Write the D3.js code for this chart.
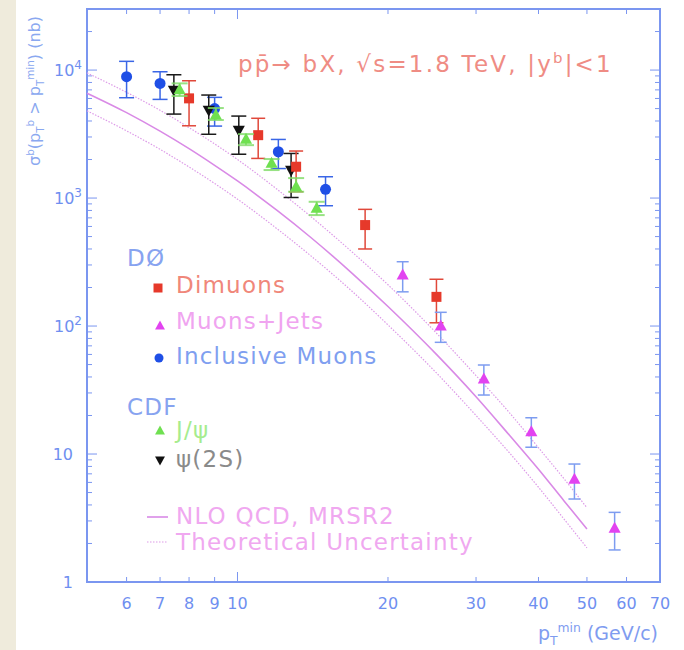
<!DOCTYPE html>
<html><head><meta charset="utf-8">
<script src="https://cdn.jsdelivr.net/npm/d3@7"></script>
<style>
html,body{margin:0;padding:0;background:#fff;}
svg{display:block;font-family:"DejaVu Sans",sans-serif;}
</style></head>
<body>
<script>
// ---------- data ----------
const xTickValues = [6,7,8,9,10,20,30,40,50,60,70];
const yMajorTicks = [1,10,100,1000,10000];
const yTickLabels = ["1","10","10|2","10|3","10|4"];

// D0 dimuons
const dimuX  = [8.0, 11.0, 13.1, 18.0, 25.0];
const dimuY  = [6010, 3100, 1757, 615, 169];
const dimuLo = [3670, 2040, 1120, 400, 106];
const dimuHi = [8250, 4200, 2330, 816, 232];
// D0 muons+jets
const mjX  = [21.4, 25.5, 31.1, 38.7, 47.2, 56.8];
const mjY  = [250, 100, 38.5, 14.9, 6.35, 2.63];
const mjLo = [185, 74.6, 28.9, 11.3, 4.45, 1.78];
const mjHi = [318, 128, 49.6, 19.2, 8.35, 3.5];
// D0 inclusive muons
const incX  = [6.0, 7.0, 9.0, 12.07, 15.0];
const incY  = [8870, 7870, 5000, 2300, 1170];
const incLo = [6080, 5900, 3650, 1700, 871];
const incHi = [11700, 9700, 6120, 2870, 1467];
// CDF J/psi
const jpsiX  = [7.66, 9.05, 10.4, 11.7, 13.1, 14.4];
const jpsiY  = [7000, 4450, 2870, 1870, 1225, 830];
const jpsiLo = [6270, 4070, 2590, 1655, 1120, 736];
const jpsiHi = [7870, 5050, 3160, 2017, 1432, 935];
// CDF psi(2S)
const psiX  = [7.46, 8.76, 10.06, 12.8];
const psiY  = [6980, 4870, 3400, 1655];
const psiLo = [4530, 3150, 2200, 1010];
const psiHi = [9190, 6380, 4370, 2230];
// NLO QCD curves
const theoryX  = [5,6,7,8,9,10,12,14,17,20,25,30,35,40,45,50];
const nloY     = [6600,4650,3330,2430,1800,1360,800,494,256,142,60,28,14,7.6,4.3,2.6];
const upperY   = [9500,6700,4850,3550,2650,2000,1170,720,375,210,88,41,21,11.2,6.4,3.8];
const lowerY   = [4800,3350,2400,1750,1300,980,575,355,185,102,43,20,10.2,5.5,3.1,1.85];

// ---------- setup ----------
const W = 684, H = 650;
const L = 87, R = 660, T = 9, B = 582;
const frameCol = "#7b96f0";
const svg = d3.select("body").append("svg").attr("width", W).attr("height", H);
svg.append("rect").attr("width", W).attr("height", H).attr("fill", "#fff");
svg.append("rect").attr("x",0).attr("y",0).attr("width",16).attr("height",H).attr("fill","#efebdc");

const x = d3.scaleLog().domain([5,70]).range([L,R]);
const y = d3.scaleLog().domain([1,30000]).range([B,T]);

// frame
svg.append("rect").attr("x",L).attr("y",T).attr("width",R-L).attr("height",B-T)
  .attr("fill","none").attr("stroke",frameCol).attr("stroke-width",2);

// x ticks (bottom & top, inward)
const tg = svg.append("g").attr("stroke",frameCol).attr("stroke-width",1);
xTickValues.forEach(v => {
  const len = (v===10) ? 10 : 5;
  tg.append("line").attr("x1",x(v)).attr("x2",x(v)).attr("y1",B).attr("y2",B-len);
  tg.append("line").attr("x1",x(v)).attr("x2",x(v)).attr("y1",T).attr("y2",T+len);
});
// y ticks (left & right, inward)
const yAll = [];
for (let d=1; d<=10000; d*=10) for (let k=1;k<=9;k++){ const v=d*k; if (v<=30000) yAll.push(v); }
yAll.forEach(v => {
  const major = yMajorTicks.includes(v);
  const len = major ? 10 : 5;
  tg.append("line").attr("x1",L).attr("x2",L+len).attr("y1",y(v)).attr("y2",y(v));
  tg.append("line").attr("x1",R).attr("x2",R-len).attr("y1",y(v)).attr("y2",y(v));
});

// x tick labels
const labCol = "#6f8ff0";
svg.append("g").selectAll("text").data(xTickValues).join("text")
  .attr("x", d=>x(d)).attr("y", 609).attr("text-anchor","middle")
  .attr("font-size",16).attr("fill",labCol).text(d=>d);

// y tick labels
yMajorTicks.forEach((v,i) => {
  const parts = yTickLabels[i].split("|");
  const t = svg.append("text").attr("x", 73).attr("y", y(v)+6)
    .attr("font-size",16).attr("fill",labCol).attr("text-anchor", "end");
  if (parts.length===1) { t.text(parts[0]); }
  else {
    t.attr("text-anchor","start").attr("x", 54);
    t.append("tspan").text(parts[0]);
    t.append("tspan").attr("dy",-7).attr("font-size",12).text(parts[1]);
  }
});

// rich text helper
function rich(g, px, py, parts, opts) {
  const t = g.append("text").attr("x",px).attr("y",py)
    .attr("font-size",opts.fs).attr("fill",opts.fill);
  if (opts.anchor) t.attr("text-anchor",opts.anchor);
  if (opts.transform) t.attr("transform",opts.transform);
  if (opts.ls) t.attr("letter-spacing",opts.ls);
  if (opts.len) t.attr("textLength",opts.len).attr("lengthAdjust","spacing");
  let cur = 0;
  parts.forEach(p => {
    const s = t.append("tspan").text(p.t);
    let target = 0;
    if (p.s==="sup") target = -opts.fs*0.4;
    if (p.s==="sub") target = opts.fs*0.25;
    if (target!==cur) { s.attr("dy", target-cur); cur = target; }
    if (p.s) s.attr("font-size", opts.fs*0.65);
    if (p.dx) s.attr("dx", p.dx);
  });
  return t;
}

// y axis label
rich(svg, 0, 0, [
  {t:"σ"},{t:"b",s:"sup"},{t:"(p"},{t:"T",s:"sub"},{t:"b",s:"sup"},
  {t:" > p"},{t:"T",s:"sub"},{t:"min",s:"sup"},{t:")  (nb)"}
], {fs:16, fill:"#8aa8f0", anchor:"middle", transform:"translate(40,91) rotate(-90)"});

// x axis label
rich(svg, 658, 640, [
  {t:"p"},{t:"T",s:"sub"},{t:"min",s:"sup"},{t:" (GeV/c)"}
], {fs:19, fill:"#7f9cf0", anchor:"end"});

// title
rich(svg, 238, 72, [
  {t:"pp̄→ bX,  √s=1.8 TeV,  |y"},{t:"b",s:"sup"},{t:"|<1"}
], {fs:23, fill:"#ef8c84", ls:2.2});

// ---------- theory curves ----------
const lineGen = d3.line().x(d=>x(d[0])).y(d=>y(d[1])).curve(d3.curveMonotoneX);
const cg = svg.append("g").attr("fill","none");
cg.append("path").attr("d", lineGen(theoryX.map((v,i)=>[v,upperY[i]])))
  .attr("stroke","#dd9be8").attr("stroke-width",1.2).attr("stroke-dasharray","1.5,1.5");
cg.append("path").attr("d", lineGen(theoryX.map((v,i)=>[v,lowerY[i]])))
  .attr("stroke","#dd9be8").attr("stroke-width",1.2).attr("stroke-dasharray","1.5,1.5");
cg.append("path").attr("d", lineGen(theoryX.map((v,i)=>[v,nloY[i]])))
  .attr("stroke","#d98ae6").attr("stroke-width",1.6);

// ---------- markers ----------
function markerPath(type, s) {
  if (type==="tri") return `M0,${-s*0.6}L${s*0.55},${s*0.4}L${-s*0.55},${s*0.4}Z`;
  if (type==="dtri") return `M0,${s*0.6}L${s*0.55},${-s*0.4}L${-s*0.55},${-s*0.4}Z`;
  if (type==="sq") return `M${-s/2},${-s/2}h${s}v${s}h${-s}Z`;
  const r = s/2;
  return `M${r},0A${r},${r} 0 1,1 ${-r},0A${r},${r} 0 1,1 ${r},0Z`;
}
function series(xs, ys, lo, hi, opt) {
  const g = svg.append("g");
  const d = xs.map((v,i)=>({x:v,y:ys[i],lo:lo[i],hi:hi[i]}));
  g.selectAll("line.v").data(d).join("line")
    .attr("x1",p=>x(p.x)).attr("x2",p=>x(p.x)).attr("y1",p=>y(p.lo)).attr("y2",p=>y(p.hi))
    .attr("stroke",opt.ec).attr("stroke-width",opt.ew||1.5).attr("opacity",opt.eo||1);
  ["lo","hi"].forEach(k => {
    g.selectAll("line.c"+k).data(d).join("line")
      .attr("x1",p=>x(p.x)-opt.cap).attr("x2",p=>x(p.x)+opt.cap)
      .attr("y1",p=>y(p[k])).attr("y2",p=>y(p[k]))
      .attr("stroke",opt.ec).attr("stroke-width",opt.ew||1.5).attr("opacity",opt.eo||1);
  });
  g.selectAll("path").data(d).join("path")
    .attr("transform",p=>`translate(${x(p.x)},${y(p.y)})`)
    .attr("d", markerPath(opt.type, opt.size)).attr("fill",opt.fill);
}
series(incX, incY, incLo, incHi, {type:"circ", size:11, fill:"#1f4fe6", ec:"#3a66e6", cap:7.5});
series(psiX, psiY, psiLo, psiHi, {type:"dtri", size:11, fill:"#111", ec:"#1a1a1a", cap:7.5});
series(dimuX, dimuY, dimuLo, dimuHi, {type:"sq", size:10, fill:"#e6392a", ec:"#e0483a", cap:7});
series(jpsiX, jpsiY, jpsiLo, jpsiHi, {type:"tri", size:11, fill:"#6fe050", ec:"#7fdc66", cap:8, ew:2, eo:0.8});
series(mjX, mjY, mjLo, mjHi, {type:"tri", size:11, fill:"#e243f0", ec:"#7d9cf0", cap:6});

// ---------- legend ----------
const lg = svg.append("g").attr("font-size",23).attr("letter-spacing",1.2);
lg.append("text").attr("x",127).attr("y",266).attr("fill","#87a3f0").text("DØ");
lg.append("path").attr("transform","translate(158,288)").attr("d",markerPath("sq",9)).attr("fill","#e6392a");
lg.append("text").attr("x",176).attr("y",293).attr("fill","#f0877a").text("Dimuons");
lg.append("path").attr("transform","translate(160,326)").attr("d",markerPath("tri",9)).attr("fill","#e243f0");
lg.append("text").attr("x",176).attr("y",329).attr("fill","#f0a4f0").text("Muons+Jets");
lg.append("path").attr("transform","translate(159,358)").attr("d",markerPath("circ",9)).attr("fill","#1f4fe6");
lg.append("text").attr("x",176).attr("y",364).attr("fill","#7f9ff0").text("Inclusive Muons");
lg.append("text").attr("x",127).attr("y",415).attr("fill","#87a3f0").text("CDF");
lg.append("path").attr("transform","translate(160,431)").attr("d",markerPath("tri",9)).attr("fill","#6fe050");
lg.append("text").attr("x",176).attr("y",438).attr("fill","#a6ec8e").text("J/ψ");
lg.append("path").attr("transform","translate(160,460)").attr("d",markerPath("dtri",9)).attr("fill","#111");
lg.append("text").attr("x",176).attr("y",467).attr("fill","#8a8a8a").text("ψ(2S)");
lg.append("line").attr("x1",147).attr("x2",168).attr("y1",517).attr("y2",517).attr("stroke","#d98ae6").attr("stroke-width",1.6);
lg.append("text").attr("x",176).attr("y",524).attr("fill","#f0a8f0").text("NLO QCD, MRSR2");
lg.append("line").attr("x1",147).attr("x2",168).attr("y1",542).attr("y2",542).attr("stroke","#dd9be8").attr("stroke-width",1.2).attr("stroke-dasharray","1.5,1.5");
lg.append("text").attr("x",176).attr("y",550).attr("fill","#f0a8f0").text("Theoretical Uncertainty");
</script>
</body></html>
